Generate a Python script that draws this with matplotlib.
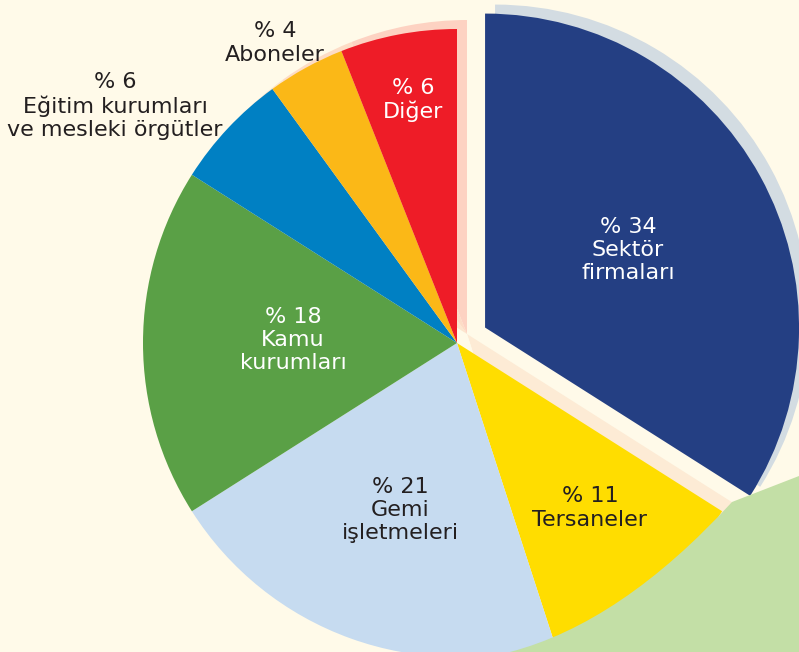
import matplotlib
matplotlib.use("Agg")
import matplotlib.pyplot as plt
from matplotlib.path import Path
from matplotlib.patches import PathPatch

# ---- data ----
categories = ["Sektör\nfirmaları", "Tersaneler", "Gemi\nişletmeleri", "Kamu\nkurumları",
              "Eğitim kurumları\nve mesleki örgütler", "Aboneler", "Diğer"]
values = [34, 11, 21, 18, 6, 4, 6]
colors = ["#243F83", "#FFDD00", "#C6DBF0", "#5AA046", "#0080C3", "#FBB817", "#EE1C27"]
shadow_colors = ["#D3DCE2", "#FDEBD5", "#FFFAE9", "#FFFAE9", "#FDE6CF", "#FDDCC6", "#FDD2C2"]
explode_frac = [0.102, 0, 0, 0, 0, 0, 0]
text_colors = ["white", "#231F20", "#231F20", "white", "#231F20", "#231F20", "white"]
# label centres in pixel coords (x, y from top)
label_pos = [(628, 250), (590, 508), (400, 510), (293, 340), (115, 106), (275, 43), (413, 100)]

W, H = 799, 652
bg = "#FFFAE9"
fig = plt.figure(figsize=(W / 100, H / 100), dpi=100, facecolor=bg)
ax = fig.add_axes([0, 0, 1, 1])
ax.set_facecolor(bg)

cx, cy, R = 457, H - 343, 314
explode = [e * R for e in explode_frac]

# shadow pie
sw, _ = ax.pie(values, colors=shadow_colors, startangle=90, counterclock=False,
               center=(cx + 10, cy + 9), radius=R, explode=explode,
               wedgeprops=dict(linewidth=0))
for w in sw:
    w.set_zorder(1)
# main pie
mw, _ = ax.pie(values, colors=colors, startangle=90, counterclock=False,
               center=(cx, cy), radius=R, explode=explode,
               wedgeprops=dict(linewidth=0))
for w in mw:
    w.set_zorder(2)

# green decorative shape bottom-right
def P(x, y):
    return (x, H - y)
verts = [P(510, 652), P(621, 623), P(732, 502), P(799, 476), P(799, 652), P(510, 652)]
codes = [Path.MOVETO, Path.CURVE3, Path.CURVE3, Path.LINETO, Path.LINETO, Path.CLOSEPOLY]
ax.add_patch(PathPatch(Path(verts, codes), facecolor="#C3DFA6", edgecolor="none", zorder=3))

for cat, v, tc, (lx, ly) in zip(categories, values, text_colors, label_pos):
    ax.text(lx, H - ly, f"% {v}\n{cat}", ha="center", va="center", color=tc,
            fontsize=16, family=["DejaVu Sans"],
            linespacing=1.2, zorder=5)

ax.set_xlim(0, W)
ax.set_ylim(0, H)
ax.set_aspect("equal")
ax.axis("off")
fig.savefig("out.png", dpi=100, facecolor=bg)
